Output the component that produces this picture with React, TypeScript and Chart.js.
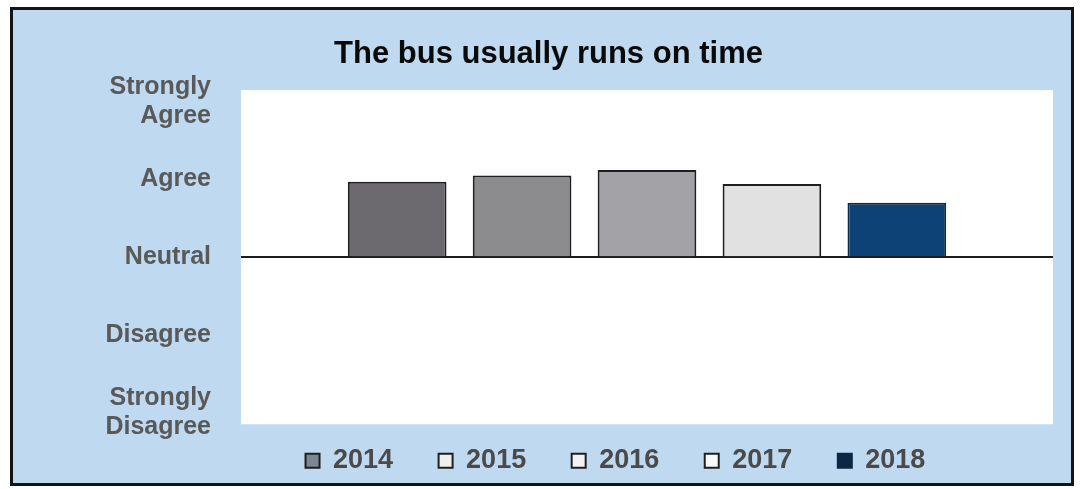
import React, { useEffect, useRef } from 'react';
import { Chart, registerables } from 'chart.js';

Chart.register(...registerables);

// ---- data ----
const yearLabels = ['2014', '2015', '2016', '2017', '2018'];
const yearValues = [2014, 2015, 2016, 2017, 2018];
const scores = [0.97, 1.05, 1.12, 0.94, 0.7];
const tickValues = [-2, -1, 0, 1, 2];
const tickLabels: (string | string[])[] = [
  ['Strongly', 'Disagree'],
  'Disagree',
  'Neutral',
  'Agree',
  ['Strongly', 'Agree'],
];
const chartTitle = 'The bus usually runs on time';

// ---- styles ----
const barColors = ['#6d6a6f', '#8c8c8e', '#a3a2a6', '#e1e1e1', '#0c4276'];
const barBorders = ['#1f1f1f', '#1f1f1f', '#1f1f1f', '#1f1f1f', '#0a2a4c'];
const legendFills = ['#7b8794', '#efefef', '#f2f2f2', '#f8f8f8', '#0b2743'];
const legendStrokes = ['#1f1f1f', '#1f1f1f', '#1f1f1f', '#1f1f1f', '#0b2743'];
const FONT = "'Liberation Sans', Arial, sans-serif";

const plotBg = {
  id: 'plotBg',
  beforeDraw(chart: any) {
    const { ctx, chartArea: a } = chart;
    ctx.save();
    ctx.fillStyle = '#ffffff';
    ctx.fillRect(a.left, a.top, a.right - a.left, a.bottom - a.top);
    ctx.restore();
  },
};

export default function App() {
  const ref = useRef<HTMLCanvasElement | null>(null);

  useEffect(() => {
    if (!ref.current) return;
    const chart = new Chart(ref.current, {
      type: 'bar',
      data: {
        datasets: yearLabels.map((label, i) => ({
          label,
          data: [{ x: yearValues[i], y: scores[i] }],
          backgroundColor: barColors[i],
          borderColor: barBorders[i],
          borderWidth: 2,
          borderSkipped: 'start',
          grouped: false,
          barPercentage: 0.79,
          categoryPercentage: 1,
        })) as any,
      },
      options: {
        animation: false,
        responsive: false,
        devicePixelRatio: 1,
        layout: { padding: { left: 31, right: 18, top: 0, bottom: -2 } },
        plugins: {
          title: {
            display: true,
            text: chartTitle,
            color: '#0a0a0a',
            fullSize: true,
            font: { family: FONT, size: 31, weight: 'bold', lineHeight: 1.2 },
            padding: { top: 25.4, bottom: 17.4 },
          },
          legend: {
            position: 'bottom',
            fullSize: false,
            stackWeight: 0.95,
            labels: {
              boxWidth: 14,
              boxHeight: 14,
              padding: 23,
              color: '#4a4a4a',
              font: { family: FONT, size: 27, weight: 'bold' },
              generateLabels: (c: any) =>
                c.data.datasets.map((ds: any, i: number) => ({
                  text: ds.label + '   ',
                  fillStyle: legendFills[i],
                  strokeStyle: legendStrokes[i],
                  lineWidth: 2,
                  hidden: false,
                  datasetIndex: i,
                  fontColor: '#4a4a4a',
                })),
            },
          },
          tooltip: { enabled: false },
        },
        scales: {
          x: {
            type: 'linear',
            min: 2012.75,
            max: 2019.25,
            offset: false,
            display: false,
            afterBuildTicks: (s: any) => {
              s.ticks = yearValues.map((v) => ({ value: v }));
            },
          },
          y: {
            min: -2.15,
            max: 2.15,
            afterBuildTicks: (s: any) => {
              s.ticks = tickValues.map((v) => ({ value: v }));
            },
            afterFit: (s: any) => {
              s.width = 197;
            },
            border: { display: false },
            grid: {
              drawTicks: false,
              lineWidth: 2,
              color: (c: any) =>
                c.tick && c.tick.value === 0 ? '#1c1c1c' : 'rgba(0,0,0,0)',
            },
            ticks: {
              padding: 30,
              color: '#595959',
              font: { family: FONT, size: 25, weight: 'bold', lineHeight: 1.15 },
              callback: (v: any) => {
                const i = tickValues.indexOf(Number(v));
                return i >= 0 ? tickLabels[i] : '';
              },
            },
          },
        },
      } as any,
      plugins: [plotBg],
    });
    return () => chart.destroy();
  }, []);

  return (
    <div
      style={{
        position: 'absolute',
        left: 10,
        top: 7,
        width: 1064,
        height: 479,
        border: '3px solid #141414',
        boxSizing: 'border-box',
        background: '#bed9f0',
      }}
    >
      <canvas ref={ref} width={1058} height={473} style={{ display: 'block' }} />
    </div>
  );
}
